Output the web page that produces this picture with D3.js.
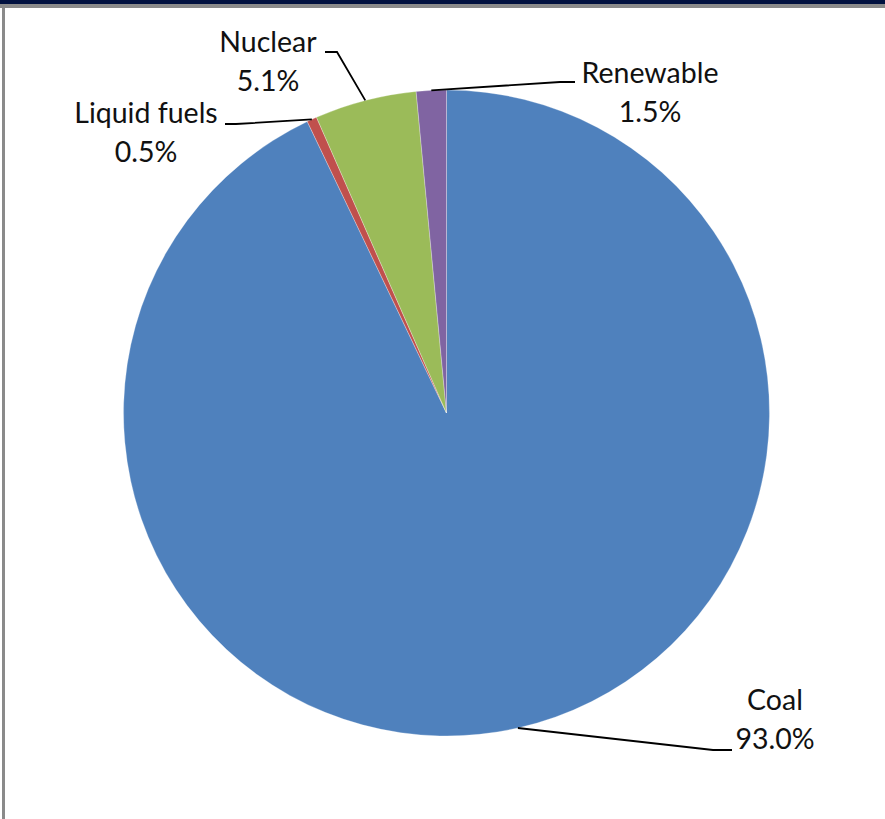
<!DOCTYPE html>
<html>
<head>
<meta charset="utf-8">
<script src="https://cdn.jsdelivr.net/npm/d3@7"></script>
<style>
  html, body { margin: 0; padding: 0; background: #fff; }
  svg { display: block; }
</style>
</head>
<body>
<svg id="chart" width="885" height="819"></svg>
<script>
// Fuel shares of electricity generation (percent)
const categories = ["Coal", "Liquid fuels", "Nuclear", "Renewable"];
const shares = [93.0, 0.5, 5.1, 1.5];
const shareLabels = ["93.0%", "0.5%", "5.1%", "1.5%"];

const colors = ["#4F81BD", "#C0504D", "#9BBB59", "#8064A2"];

const W = 885, H = 819;
const cx = 446.5, cy = 413, R = 323;

const svg = d3.select("#chart");

// Frame: dark top band, grey rule under it and down the left side
svg.append("rect").attr("x", 0).attr("y", 0).attr("width", W).attr("height", 4).attr("fill", "#00103f");
svg.append("rect").attr("x", 0).attr("y", 4).attr("width", W).attr("height", 4).attr("fill", "#8a8a8a");
svg.append("rect").attr("x", 2).attr("y", 8).attr("width", 3).attr("height", H - 8).attr("fill", "#8a8a8a");

const data = categories.map((c, i) => ({ name: c, value: shares[i], label: shareLabels[i], color: colors[i] }));

const pie = d3.pie().value(d => d.value).sort(null);
const arcs = pie(data);
const arc = d3.arc().innerRadius(0).outerRadius(R);

const g = svg.append("g").attr("transform", `translate(${cx},${cy})`);
g.selectAll("path.slice")
  .data(arcs)
  .join("path")
  .attr("class", "slice")
  .attr("d", arc)
  .attr("fill", d => d.data.color)
  .attr("stroke", "rgba(255,255,255,0.35)")
  .attr("stroke-width", 0.8);

// Label boxes: centre x, baseline of first line, and where the leader meets the text
const labelPos = {
  "Coal":         { x: 775, y: 710, join: [732, 750], elbow: [713, 750] },
  "Liquid fuels": { x: 146, y: 123, join: [225, 124], elbow: [236, 124] },
  "Nuclear":      { x: 268, y: 52,  join: [325, 52],  elbow: [337, 52] },
  "Renewable":    { x: 650, y: 83,  join: [575, 82],  elbow: [560, 82] }
};

const edgePoint = d => {
  const a = (d.startAngle + d.endAngle) / 2;
  return [cx + R * Math.sin(a), cy - R * Math.cos(a)];
};

const line = d3.line();
svg.selectAll("path.leader")
  .data(arcs)
  .join("path")
  .attr("class", "leader")
  .attr("d", d => {
    const p = labelPos[d.data.name];
    return line([edgePoint(d), p.elbow, p.join]);
  })
  .attr("fill", "none")
  .attr("stroke", "#000")
  .attr("stroke-width", 1.8);

const labels = svg.selectAll("text.lbl")
  .data(arcs)
  .join("text")
  .attr("class", "lbl")
  .attr("text-anchor", "middle")
  .attr("font-family", "Lato, 'Open Sans', sans-serif")
  .attr("font-size", 28.5)
  .attr("fill", "#111");

labels.append("tspan")
  .attr("x", d => labelPos[d.data.name].x)
  .attr("y", d => labelPos[d.data.name].y)
  .text(d => d.data.name);
labels.append("tspan")
  .attr("x", d => labelPos[d.data.name].x)
  .attr("y", d => labelPos[d.data.name].y + 39)
  .text(d => d.data.label);
</script>
</body>
</html>
